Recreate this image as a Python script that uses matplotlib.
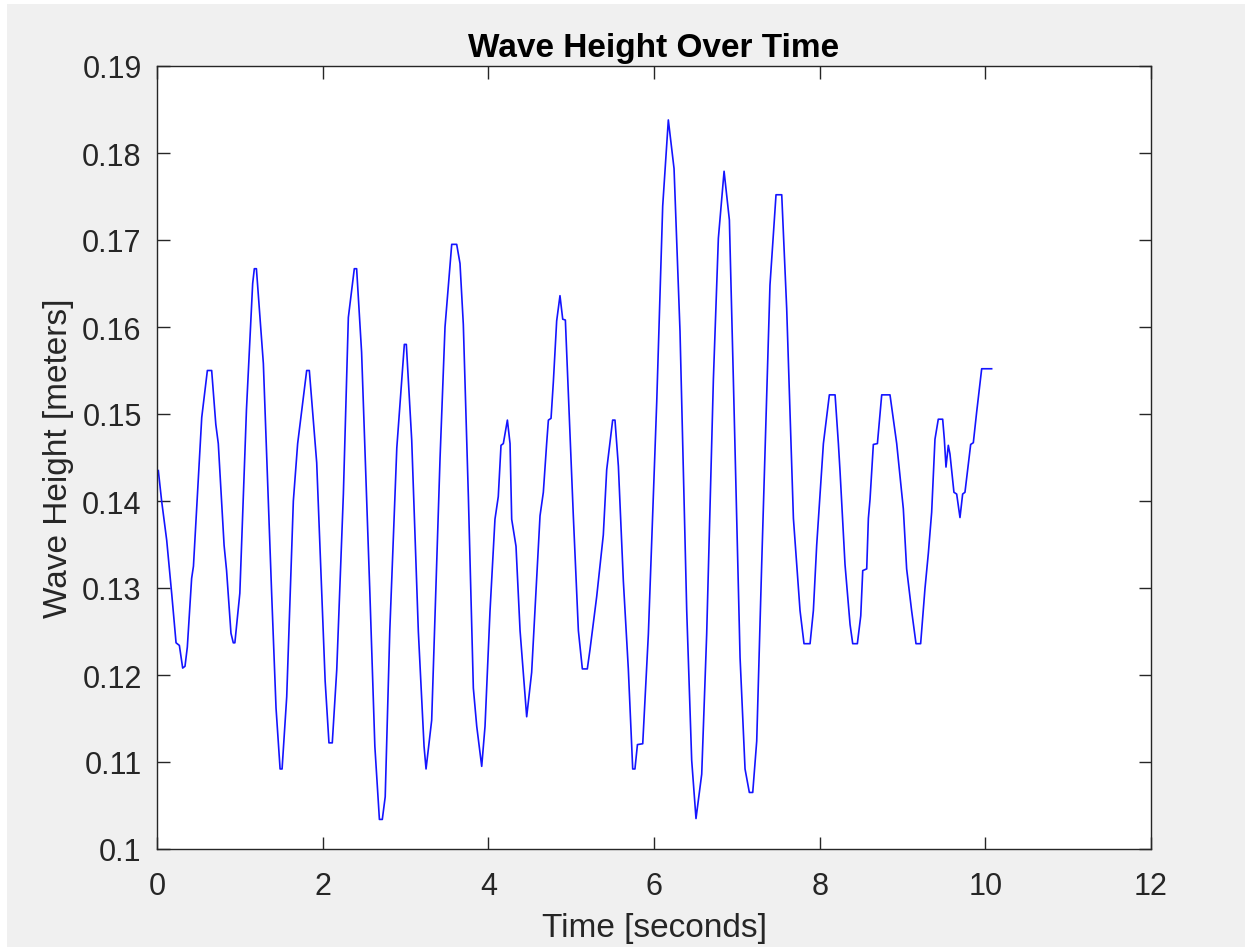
import numpy as np
import matplotlib
matplotlib.use("Agg")
import matplotlib.pyplot as plt
from matplotlib.patches import Rectangle

# wave record (seconds, metres)
time_s = [
    0.016, 0.056, 0.117, 0.177, 0.23, 0.27, 0.31, 0.338, 0.366, 0.418, 0.44,
    0.54, 0.608, 0.66, 0.71, 0.74, 0.81, 0.84, 0.893, 0.921, 0.94, 1.0,
    1.08, 1.155, 1.175, 1.2, 1.284, 1.384, 1.437, 1.486, 1.51, 1.566, 1.646,
    1.698, 1.807, 1.839, 1.928, 2.03, 2.076, 2.116, 2.17, 2.25, 2.31, 2.382,
    2.41, 2.47, 2.57, 2.63, 2.685, 2.72, 2.755, 2.81, 2.895, 2.986, 3.01,
    3.075, 3.155, 3.224, 3.248, 3.316, 3.417, 3.477, 3.558, 3.618, 3.658,
    3.698, 3.759, 3.819, 3.86, 3.92, 3.96, 4.02, 4.08, 4.12, 4.153, 4.181,
    4.23, 4.262, 4.282, 4.334, 4.383, 4.463, 4.523, 4.624, 4.664, 4.704,
    4.725, 4.757, 4.785, 4.825, 4.865, 4.898, 4.93, 4.966, 5.026, 5.087,
    5.135, 5.195, 5.227, 5.308, 5.388, 5.429, 5.501, 5.529, 5.57, 5.63,
    5.69, 5.743, 5.77, 5.80, 5.864, 5.932, 6.033, 6.105, 6.173, 6.242,
    6.314, 6.395, 6.455, 6.507, 6.576, 6.636, 6.717, 6.777, 6.846, 6.91,
    6.958, 7.039, 7.099, 7.151, 7.192, 7.24, 7.30, 7.40, 7.473, 7.542,
    7.602, 7.683, 7.763, 7.811, 7.884, 7.924, 7.964, 8.045, 8.117, 8.186,
    8.226, 8.246, 8.306, 8.367, 8.399, 8.455, 8.496, 8.52, 8.568, 8.588,
    8.608, 8.648, 8.697, 8.749, 8.849, 8.93, 9.01, 9.05, 9.11, 9.163,
    9.219, 9.271, 9.312, 9.352, 9.392, 9.432, 9.485, 9.505, 9.525, 9.553,
    9.573, 9.621, 9.654, 9.694, 9.726, 9.754, 9.823, 9.855, 9.895, 9.956,
    10.076,
]
height_m = [
    0.1435, 0.140, 0.1355, 0.1294, 0.1237, 0.1234, 0.1208, 0.121, 0.1232,
    0.1311, 0.1325, 0.1496, 0.155, 0.155, 0.1488, 0.1466, 0.1349, 0.132,
    0.1248, 0.1237, 0.1237, 0.1294, 0.1505, 0.165, 0.1667, 0.1667, 0.1558,
    0.1294, 0.1162, 0.1092, 0.1092, 0.1175, 0.140, 0.1466, 0.155, 0.155,
    0.1444, 0.1193, 0.1122, 0.1122, 0.1206, 0.1408, 0.1611, 0.1667, 0.1667,
    0.1571, 0.1294, 0.1118, 0.1034, 0.1034, 0.106, 0.125, 0.1461, 0.158,
    0.158, 0.147, 0.125, 0.1118, 0.1092, 0.1148, 0.1449, 0.1600, 0.1695,
    0.1695, 0.1673, 0.1603, 0.1405, 0.1185, 0.1141, 0.1095, 0.1141, 0.1273,
    0.1379, 0.1405, 0.1464, 0.1466, 0.1493, 0.1466, 0.1379, 0.1348, 0.1251,
    0.1152, 0.1203, 0.1383, 0.141, 0.1466, 0.1493, 0.1495, 0.1537, 0.1607,
    0.1636, 0.1609, 0.1608, 0.1524, 0.1383, 0.1251, 0.1207, 0.1207, 0.1229,
    0.129, 0.1361, 0.1436, 0.1493, 0.1493, 0.144, 0.1308, 0.1207, 0.1092,
    0.1092, 0.112, 0.1121, 0.1247, 0.1514, 0.1739, 0.1838, 0.1782, 0.1595,
    0.1274, 0.1102, 0.1035, 0.1086, 0.1247, 0.154, 0.1702, 0.1779, 0.1723,
    0.154, 0.122, 0.1092, 0.1065, 0.1065, 0.1124, 0.1327, 0.1648, 0.1752,
    0.1752, 0.1621, 0.138, 0.1274, 0.1236, 0.1236, 0.1274, 0.1349, 0.1466,
    0.1522, 0.1522, 0.1466, 0.1434, 0.1327, 0.1258, 0.1236, 0.1236, 0.1268,
    0.132, 0.1322, 0.138, 0.1402, 0.1465, 0.1466, 0.1522, 0.1522, 0.1466,
    0.1391, 0.1322, 0.1274, 0.1236, 0.1236, 0.1299, 0.134, 0.1387, 0.1471,
    0.1494, 0.1494, 0.1471, 0.1439, 0.1464, 0.1454, 0.141, 0.1408, 0.1381,
    0.1408, 0.141, 0.1465, 0.1467, 0.1502, 0.1552, 0.1552,
]

x_ticks = [0, 2, 4, 6, 8, 10, 12]
y_ticks = [0.10, 0.11, 0.12, 0.13, 0.14, 0.15, 0.16, 0.17, 0.18, 0.19]

plt.rcParams['font.family'] = ['Liberation Sans', 'DejaVu Sans']

fig = plt.figure(figsize=(12.52, 9.53), dpi=100, facecolor='white')
# grey matlab-style window background with a thin white margin
fig.patches.append(Rectangle((7 / 1252, 5 / 953), 1 - 14 / 1252, 1 - 10 / 953,
                             transform=fig.transFigure, facecolor='#f0f0f0',
                             edgecolor='none', zorder=-10))

ax = fig.add_axes([157 / 1252, 1 - 850 / 953, 994 / 1252, 783 / 953])
ax.set_facecolor('white')
ax.plot(time_s, height_m, color='#1414ff', linewidth=1.2)

ax.set_xlim(0, 12)
ax.set_ylim(0.10, 0.19)
ax.set_xticks(x_ticks)
ax.set_yticks(y_ticks)
ax.set_xticklabels([str(t) for t in x_ticks])
ax.set_yticklabels([f"{v:g}" for v in y_ticks])

ax.tick_params(direction='in', length=9, width=1.0, color='#262626',
               labelsize=22, labelcolor='#262626', top=True, right=True,
               pad=11)
ax.tick_params(axis='x', pad=16)
for sp in ax.spines.values():
    sp.set_color('#262626')
    sp.set_linewidth(1.0)

ax.set_title('Wave Height Over Time', fontsize=24, fontweight='bold',
             color='black', pad=7)
ax.set_xlabel('Time [seconds]', fontsize=24, color='#262626', labelpad=8)
ax.set_ylabel('Wave Height [meters]', fontsize=24, color='#262626', labelpad=6)

fig.savefig('out.png', dpi=100, facecolor=fig.get_facecolor())
